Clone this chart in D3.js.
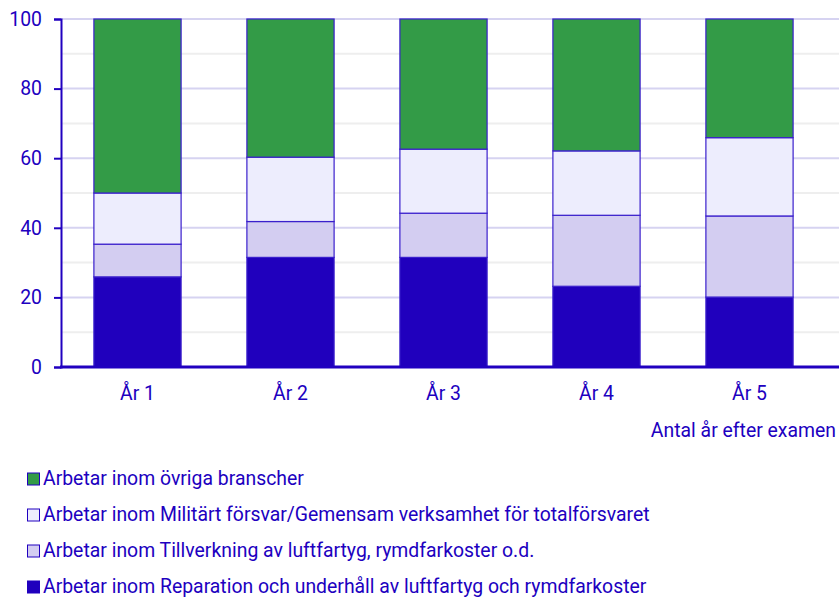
<!DOCTYPE html>
<html>
<head>
<meta charset="utf-8">
<script src="https://cdn.jsdelivr.net/npm/d3@7"></script>
<style>
  body { margin: 0; background: #fff; }
  svg text { font-family: Roboto, "Noto Sans", sans-serif; fill: #2000c0; }
</style>
</head>
<body>
<svg id="chart" width="839" height="598"></svg>
<script>
'use strict';

var years = ['År 1', 'År 2', 'År 3', 'År 4', 'År 5'];
// segment values, bottom to top
var reparation = [25.9, 31.5, 31.5, 23.2, 20.1];
var tillverkning = [9.4, 10.3, 12.7, 20.4, 23.3];
var militart = [14.7, 18.5, 18.4, 18.5, 22.5];
var ovriga = [50.0, 39.7, 37.4, 37.9, 34.1];
var seriesNames = [
    'Arbetar inom Reparation och underhåll av luftfartyg och rymdfarkoster',
    'Arbetar inom Tillverkning av luftfartyg, rymdfarkoster o.d.',
    'Arbetar inom Militärt försvar/Gemensam verksamhet för totalförsvaret',
    'Arbetar inom övriga branscher'
];
var yTicks = [0, 20, 40, 60, 80, 100];

var colors = ['#2000bd', '#d3cdf1', '#ededfd', '#339b47'];
var textColor = '#2000c0';
var fontSize = '19.4px';

var svg = d3.select('#chart');
var plotLeft = 61, plotRight = 826, plotTop = 19, plotBottom = 367;

var x = d3.scaleBand().domain(years).range([plotLeft, plotRight]).paddingInner(0.43).paddingOuter(0.215);
var y = d3.scaleLinear().domain([0, 100]).range([plotBottom, plotTop]);

// minor grid
svg.append('g').selectAll('line')
    .data(d3.range(10, 100, 20))
    .enter().append('line')
    .attr('x1', plotLeft).attr('x2', 839)
    .attr('y1', function(d) { return y(d); }).attr('y2', function(d) { return y(d); })
    .style('stroke', '#eeeeee').style('stroke-width', 2);

// major grid
svg.append('g').selectAll('line')
    .data(yTicks.slice(1))
    .enter().append('line')
    .attr('x1', plotLeft).attr('x2', 839)
    .attr('y1', function(d) { return y(d); }).attr('y2', function(d) { return y(d); })
    .style('stroke', '#d6d3f1').style('stroke-width', 2);

var table = years.map(function(yr, i) {
    return { year: yr, s0: reparation[i], s1: tillverkning[i], s2: militart[i], s3: ovriga[i] };
});
var stack = d3.stack().keys(['s0', 's1', 's2', 's3']);
var layers = stack(table);

var layerG = svg.append('g').selectAll('g')
    .data(layers)
    .enter().append('g')
    .attr('fill', function(d, i) { return colors[i]; });

layerG.selectAll('rect')
    .data(function(d) { return d; })
    .enter().append('rect')
    .attr('x', function(d) { return x(d.data.year); })
    .attr('width', x.bandwidth())
    .attr('y', function(d) { return y(d[1]); })
    .attr('height', function(d) { return y(d[0]) - y(d[1]); })
    .style('stroke', '#3a1fcc')
    .style('stroke-width', 1.2);

// y axis
var yAxis = d3.axisLeft(y).tickValues(yTicks).tickSize(7).tickPadding(12);
var yg = svg.append('g').attr('transform', 'translate(' + plotLeft + ',0)').call(yAxis);
yg.select('.domain').style('stroke', textColor).style('stroke-width', 2);
yg.selectAll('.tick line').style('stroke', textColor).style('stroke-width', 2);
yg.selectAll('.tick text').style('font-size', fontSize).style('fill', textColor)
    .style('font-family', 'Roboto, sans-serif');

// x axis
var xAxis = d3.axisBottom(x).tickSize(0).tickPadding(19);
var xg = svg.append('g').attr('transform', 'translate(0,' + plotBottom + ')').call(xAxis);
xg.select('.domain').remove();
xg.selectAll('.tick text').style('font-size', fontSize).style('fill', textColor)
    .style('font-family', 'Roboto, sans-serif');
svg.append('line')
    .attr('x1', plotLeft - 1).attr('x2', 839)
    .attr('y1', plotBottom).attr('y2', plotBottom)
    .style('stroke', textColor).style('stroke-width', 3);

svg.append('text')
    .attr('x', 836).attr('y', 437)
    .attr('text-anchor', 'end')
    .style('font-size', fontSize)
    .text('Antal år efter examen');

// legend, top row is last series
var legendOrder = [3, 2, 1, 0];
var legend = svg.append('g').selectAll('g')
    .data(legendOrder)
    .enter().append('g')
    .attr('transform', function(d, i) { return 'translate(27,' + (479 + i * 36) + ')'; });

legend.append('rect')
    .attr('x', 0.5).attr('y', -6)
    .attr('width', 12).attr('height', 12)
    .attr('fill', function(d) { return colors[d]; })
    .style('stroke', '#2000c0').style('stroke-width', 1);

legend.append('text')
    .attr('x', 16).attr('y', 0)
    .attr('dy', '0.32em')
    .style('font-size', fontSize)
    .text(function(d) { return seriesNames[d]; });
</script>
</body>
</html>
